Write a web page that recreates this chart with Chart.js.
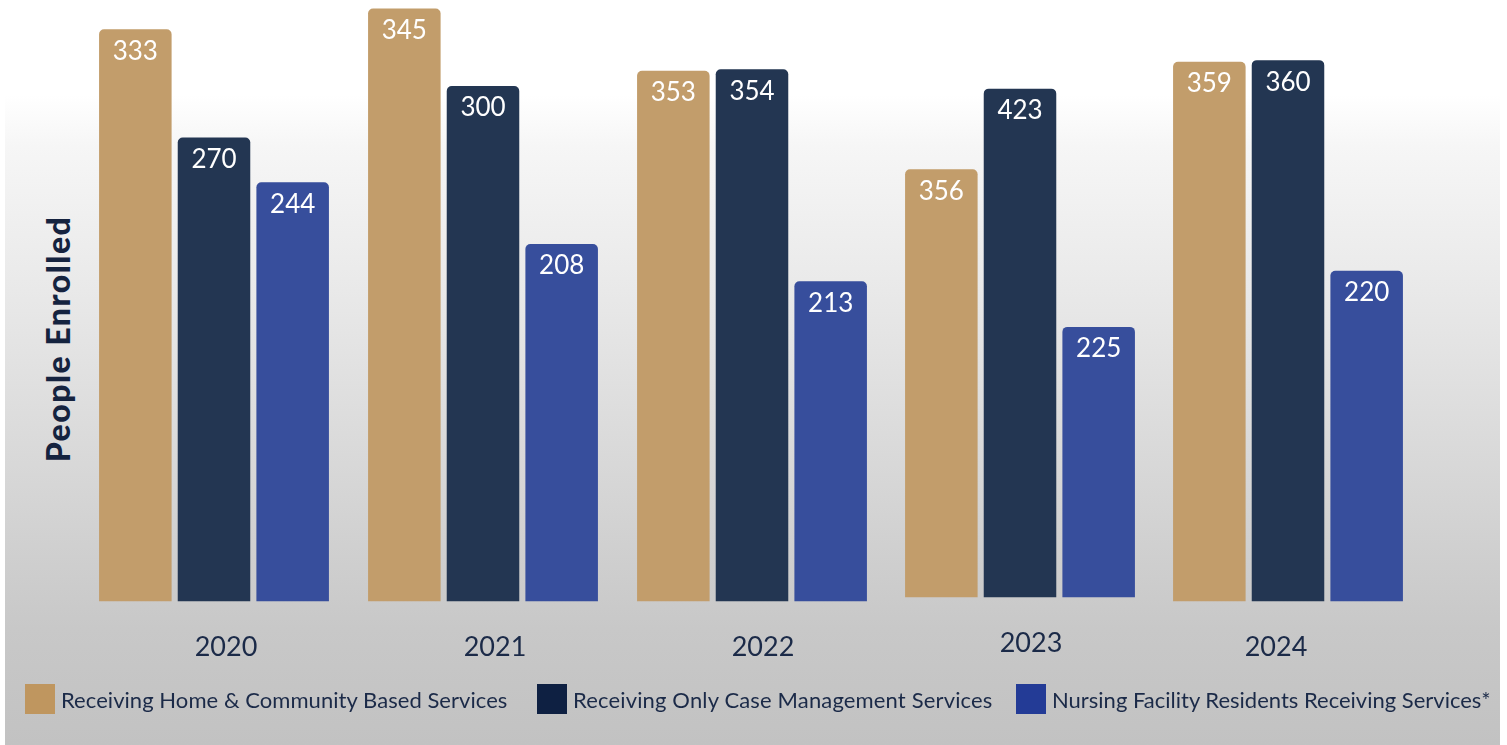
<!DOCTYPE html>
<html>
<head>
<meta charset="utf-8">
<script src="https://cdn.jsdelivr.net/npm/chart.js@4.4.1/dist/chart.umd.min.js"></script>
<style>
  html, body { margin: 0; padding: 0; }
  body { width: 1507px; height: 745px; position: relative; overflow: hidden; background: #fff; font-family: Lato, sans-serif; }
  #panel { position: absolute; left: 5px; top: 95px; width: 1495px; height: 650px;
    background: linear-gradient(to bottom, #ffffff 0%, #f6f6f6 8%, #e9e9e9 30%, #d6d6d6 60%, #c8c8c8 82%, #c2c2c2 100%); }
  canvas.yr { position: absolute; }
  #ytitle { position: absolute; left: 57px; top: 339px; transform: translate(-50%, -50%) rotate(-90deg);
    white-space: nowrap; font: 900 32px Lato, sans-serif; letter-spacing: 1.5px; color: #15233f; }
  .leg { position: absolute; top: 684px; height: 30px; display: flex; align-items: center; white-space: nowrap;
    font-size: 22px; color: #1b2a48; }
  .leg span.sw { width: 30px; height: 30px; display: inline-block; margin-right: 6px; }
</style>
</head>
<body>
<div id="panel"></div>
<div id="ytitle">People Enrolled</div>
<div id="charts"></div>
<div id="legend"></div>
<script>
const years = ['2020', '2021', '2022', '2023', '2024'];
const homeCommunity = [333, 345, 353, 356, 359];
const caseManagement = [270, 300, 354, 423, 360];
const nursingFacility = [244, 208, 213, 225, 220];
const seriesNames = [
  'Receiving Home & Community Based Services',
  'Receiving Only Case Management Services',
  'Nursing Facility Residents Receiving Services*'
];
// each year group in the original uses its own scale
const yearScaleMax = [350, 350, 400, 500, 400];

// layout / styling
const barColors = ['#c29d6b', '#233652', '#374e9c'];
const legendColors = ['#bf965f', '#0e2042', '#233b96'];
const groupLeft = [96, 365, 634, 902, 1170];
const groupTop = [0, 0, 0, -4, 0];
const labelShift = [12, 12, 11, 11, -12];
const legendLeft = [25, 537, 1016];
const legendSpacing = ['0.05px', '0.15px', '0px'];
const textColor = '#1b2a48';

const valueLabels = {
  id: 'valueLabels',
  afterDatasetsDraw(chart) {
    const ctx = chart.ctx;
    ctx.save();
    ctx.font = '26px Lato';
    ctx.fillStyle = '#ffffff';
    ctx.textAlign = 'center';
    ctx.textBaseline = 'middle';
    chart.data.datasets.forEach((ds, di) => {
      chart.getDatasetMeta(di).data.forEach((bar, j) => {
        ctx.fillText(ds.data[j], bar.x, bar.y + 22);
      });
    });
    ctx.restore();
  }
};

const holder = document.getElementById('charts');
const series = [homeCommunity, caseManagement, nursingFacility];

years.forEach((yr, i) => {
  const cv = document.createElement('canvas');
  cv.className = 'yr';
  cv.width = 236;
  cv.height = 692;
  cv.style.left = groupLeft[i] + 'px';
  cv.style.top = groupTop[i] + 'px';
  holder.appendChild(cv);

  new Chart(cv, {
    type: 'bar',
    data: {
      labels: [yr],
      datasets: series.map((s, k) => ({
        label: seriesNames[k],
        data: [s[i]],
        backgroundColor: barColors[k],
        borderRadius: { topLeft: 5, topRight: 5 },
        borderSkipped: 'bottom',
        categoryPercentage: 1,
        barPercentage: 0.922
      }))
    },
    options: {
      responsive: false,
      animation: false,
      layout: { padding: 0 },
      plugins: { legend: { display: false }, tooltip: { enabled: false } },
      scales: {
        x: {
          grid: { display: false, drawTicks: false },
          border: { display: false },
          ticks: { color: textColor, font: { family: 'Lato', size: 27 }, padding: 29, labelOffset: labelShift[i] }
        },
        y: { display: false, min: 0, max: yearScaleMax[i] }
      }
    },
    plugins: [valueLabels]
  });
});

const legend = document.getElementById('legend');
seriesNames.forEach((name, k) => {
  const item = document.createElement('div');
  item.className = 'leg';
  item.style.left = legendLeft[k] + 'px';
  item.style.letterSpacing = legendSpacing[k];
  const sw = document.createElement('span');
  sw.className = 'sw';
  sw.style.background = legendColors[k];
  item.appendChild(sw);
  item.appendChild(document.createTextNode(name));
  legend.appendChild(item);
});
</script>
</body>
</html>
